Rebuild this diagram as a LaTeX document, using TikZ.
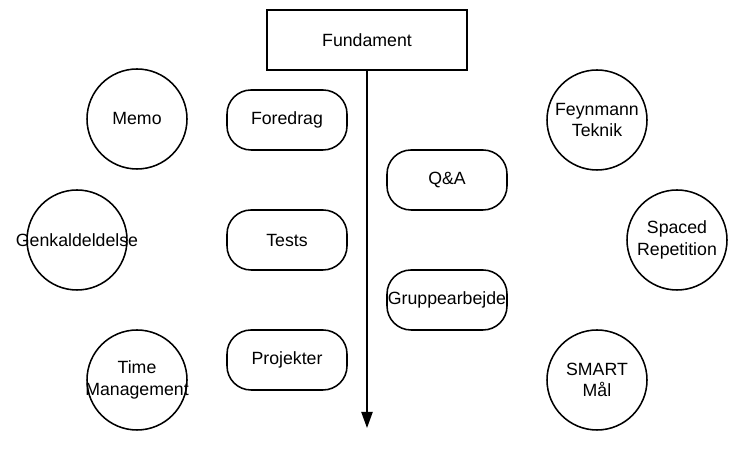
\documentclass[tikz,border=0pt]{standalone}
\usepackage{fontspec}
\setmainfont{Liberation Sans}
\usetikzlibrary{arrows.meta, positioning}

\begin{document}
\begin{tikzpicture}[line width=1.1pt,
    every node/.style={font=\fontsize{12.6pt}{15.3pt}\selectfont, align=center},
    topbox/.style={rectangle,draw,minimum width=5cm,minimum height=1.5cm},
    pill/.style={rectangle,draw,rounded corners=0.6cm,minimum width=3cm,minimum height=1.5cm,inner xsep=0pt}]
    \useasboundingbox (0,0) rectangle (18.675,11.525);
    % 顶部框和箭头
    \node[topbox] (fund) at (9.175,10.525) {Fundament};
    \coordinate (end) at (9.175,0.825);
    \draw[-{Triangle[length=0.4cm,width=0.28cm]}] (fund) -- (end);

    % 中间圆角框
    \node[pill] (foredrag) at (7.175,8.525) {Foredrag};
    \node[pill] (tests) at (7.175,5.525) {Tests};
    \node[pill] (projekter) at (7.175,2.525) {Projekter};
    \node[pill] (qa) at (11.175,7.025) {Q\&A};
    \node[pill] (gruppe) at (11.175,4.025) {Gruppearbejde};

    % 圆圈里的文字
    \node (memo) at (3.425,8.55) {Memo};
    \node (genkald) at (1.925,5.525) {Genkaldeldelse};
    \node (time) at (3.425,2.025) {Time\\Management};
    \node (feynmann) at (14.925,8.525) {Feynmann\\Teknik};
    \node (spaced) at (16.925,5.525) {Spaced\\Repetition};
    \node (smart) at (14.925,2.025) {SMART\\Mål};

    % 画圆圈
    \foreach \c in {memo,genkald,time,feynmann,spaced,smart} {
        \draw (\c) circle (1.25cm);
    }
\end{tikzpicture}
\end{document}
